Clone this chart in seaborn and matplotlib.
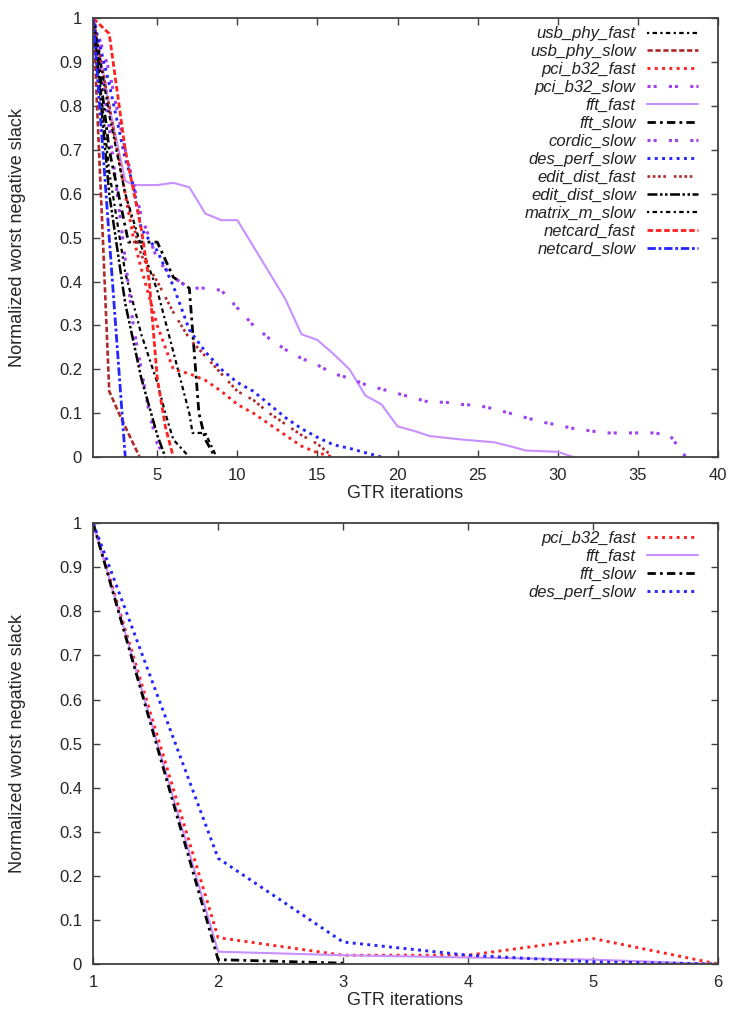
import matplotlib
matplotlib.use("Agg")
import matplotlib.pyplot as plt
import seaborn as sns
import pandas as pd

# ---- top panel: all designs ----
usb_phy_fast_x = [1, 2, 3, 4, 5, 5.5, 6, 7]
usb_phy_fast_y = [1, 0.65, 0.42, 0.28, 0.17, 0.1, 0.04, 0]
usb_phy_slow_x = [1, 1.6, 2, 2.6, 3.9]
usb_phy_slow_y = [1, 0.5, 0.15, 0.1, 0]
pci_b32_fast_x = [1, 2, 3, 3.5, 4, 5, 6, 7, 8, 9, 10, 11, 12, 13, 14, 15, 16]
pci_b32_fast_y = [1, 0.8, 0.6, 0.5, 0.43, 0.3, 0.2, 0.19, 0.175, 0.15, 0.12, 0.1, 0.075, 0.05, 0.025, 0.01, 0]
pci_b32_slow_x = [1, 2, 3, 3.5, 4, 4.5, 5, 5.5]
pci_b32_slow_y = [1, 0.75, 0.45, 0.3, 0.2, 0.1, 0.03, 0]
fft_fast_x = [1, 2, 3, 3.5, 5, 6, 7, 8, 9, 10, 11, 12, 13, 14, 15, 16, 17, 18, 19, 20, 21, 22, 24, 26, 27, 28, 30, 31]
fft_fast_y = [1, 0.8, 0.63, 0.62, 0.62, 0.625, 0.615, 0.555, 0.54, 0.54, 0.48, 0.42, 0.36, 0.28, 0.267, 0.235, 0.2,
              0.14, 0.12, 0.07, 0.06, 0.048, 0.04, 0.034, 0.025, 0.015, 0.012, 0]
fft_slow_x = [1, 2, 3.2, 5, 6, 7, 7.6, 8, 8.6]
fft_slow_y = [1, 0.7, 0.49, 0.49, 0.41, 0.385, 0.1, 0.04, 0]
cordic_slow_x = [1, 2, 3, 4, 5, 6, 7, 8, 9, 10, 11, 12, 13, 14, 15, 16, 17, 18, 19, 20, 21, 22, 23, 24, 25,
                 26, 27, 28, 29, 30, 31, 32, 33, 34, 35, 36, 37, 38]
cordic_slow_y = [1, 0.88, 0.7, 0.55, 0.45, 0.41, 0.385, 0.385, 0.38, 0.34, 0.3, 0.27, 0.245, 0.225, 0.21, 0.19,
                 0.18, 0.165, 0.155, 0.145, 0.135, 0.125, 0.125, 0.12, 0.118, 0.11, 0.1, 0.09, 0.08, 0.073, 0.065,
                 0.06, 0.055, 0.055, 0.055, 0.055, 0.05, 0]
des_perf_slow_x = [1, 2, 3, 3.5, 4, 5, 6, 7, 8, 9, 10, 11, 12, 13, 14, 15, 16, 17, 18, 19]
des_perf_slow_y = [1, 0.85, 0.68, 0.62, 0.52, 0.47, 0.39, 0.29, 0.24, 0.2, 0.17, 0.15, 0.12, 0.09, 0.065, 0.045,
                   0.028, 0.02, 0.01, 0]
edit_dist_fast_x = [1, 2, 3, 4, 5, 6, 7, 8, 9, 10, 11, 12, 13, 14, 15, 16]
edit_dist_fast_y = [1, 0.8, 0.6, 0.46, 0.4, 0.33, 0.27, 0.23, 0.19, 0.15, 0.13, 0.1, 0.075, 0.05, 0.03, 0]
edit_dist_slow_x = [1, 2, 3, 4, 5, 5.5]
edit_dist_slow_y = [1, 0.6, 0.35, 0.18, 0.05, 0]
matrix_m_slow_x = [1, 2, 3, 4, 5, 6, 7, 7.2, 8, 8.7]
matrix_m_slow_y = [1, 0.78, 0.6, 0.48, 0.38, 0.24, 0.1, 0.055, 0.055, 0]
netcard_fast_x = [1, 2, 3, 4, 4.5, 5, 5.5, 6]
netcard_fast_y = [1, 0.965, 0.7, 0.52, 0.4, 0.18, 0.07, 0]
netcard_slow_x = [1, 1.5, 2, 2.5, 2.8, 3]
netcard_slow_y = [1, 0.75, 0.5, 0.25, 0.1, 0]

# ---- bottom panel: selected designs ----
b_pci_b32_fast_x = [1, 2, 3, 4, 5, 6]
b_pci_b32_fast_y = [1, 0.06, 0.02, 0.02, 0.058, 0]
b_fft_fast_x = [1, 2, 3, 4, 5, 6]
b_fft_fast_y = [1, 0.028, 0.02, 0.015, 0.01, 0]
b_fft_slow_x = [1, 2, 3]
b_fft_slow_y = [1, 0.01, 0.002]
b_des_perf_slow_x = [1, 2, 3, 4, 5, 6]
b_des_perf_slow_y = [1, 0.24, 0.05, 0.02, 0.005, 0]

RED = "#ff2020"
DRED = "#b02828"
PURP = "#a040f0"
LVIO = "#c890ff"
BLUE = "#2424ff"
BLK = "#000000"

top_series = [
    ("usb_phy_fast", usb_phy_fast_x, usb_phy_fast_y, BLK, (0, (1, 1.5, 2, 1.5)), 1.6),
    ("usb_phy_slow", usb_phy_slow_x, usb_phy_slow_y, DRED, (0, (2, 1)), 1.9),
    ("pci_b32_fast", pci_b32_fast_x, pci_b32_fast_y, RED, (0, (1, 1.5)), 2.1),
    ("pci_b32_slow", pci_b32_slow_x, pci_b32_slow_y, PURP, (0, (1, 1, 1, 4)), 2.2),
    ("fft_fast", fft_fast_x, fft_fast_y, LVIO, "-", 1.5),
    ("fft_slow", fft_slow_x, fft_slow_y, BLK, (0, (3, 1.5, 1, 1.5)), 2.0),
    ("cordic_slow", cordic_slow_x, cordic_slow_y, PURP, (0, (1, 1, 1, 4)), 2.2),
    ("des_perf_slow", des_perf_slow_x, des_perf_slow_y, BLUE, (0, (1, 1.5)), 2.1),
    ("edit_dist_fast", edit_dist_fast_x, edit_dist_fast_y, DRED, (0, (1, 1, 1, 1, 1, 1, 1, 3)), 1.9),
    ("edit_dist_slow", edit_dist_slow_x, edit_dist_slow_y, BLK, (0, (4, 1, 1, 1, 1, 1)), 1.8),
    ("matrix_m_slow", matrix_m_slow_x, matrix_m_slow_y, BLK, (0, (1, 1.5, 2, 1.5)), 1.6),
    ("netcard_fast", netcard_fast_x, netcard_fast_y, RED, (0, (2, 1)), 2.0),
    ("netcard_slow", netcard_slow_x, netcard_slow_y, BLUE, (0, (3, 1, 1, 1)), 2.0),
]

bottom_series = [
    ("pci_b32_fast", b_pci_b32_fast_x, b_pci_b32_fast_y, RED, (0, (1, 1.5)), 2.1),
    ("fft_fast", b_fft_fast_x, b_fft_fast_y, LVIO, "-", 1.5),
    ("fft_slow", b_fft_slow_x, b_fft_slow_y, BLK, (0, (3, 1.5, 1, 1.5)), 2.0),
    ("des_perf_slow", b_des_perf_slow_x, b_des_perf_slow_y, BLUE, (0, (1, 1.5)), 2.1),
]

sns.set_style("ticks", {"xtick.direction": "in", "ytick.direction": "in",
                        "axes.edgecolor": "#404040"})
plt.rcParams["font.family"] = ["Liberation Sans", "DejaVu Sans"]


def draw_panel(ax, series, xlim, xticks):
    for name, xs, ys, color, ls, lw in series:
        df = pd.DataFrame({"x": xs, "y": ys})
        sns.lineplot(data=df, x="x", y="y", ax=ax, color=color, linestyle=ls,
                     linewidth=lw, label=name, errorbar=None, sort=False)
    ax.set_xlim(*xlim)
    ax.set_ylim(0, 1)
    ax.set_xticks(xticks)
    ax.set_yticks([i / 10 for i in range(11)])
    ax.set_yticklabels(["0"] + [f"{i / 10:.1f}" for i in range(1, 10)] + ["1"])
    ax.tick_params(top=True, right=True, labelsize=12, length=5, width=1, color="#404040", pad=8)
    for sp in ax.spines.values():
        sp.set_linewidth(1.3)
    ax.set_xlabel("GTR iterations", fontsize=13, labelpad=1)
    ax.set_ylabel("Normalized worst negative slack", fontsize=13, labelpad=24)
    leg = ax.legend(loc="upper right", bbox_to_anchor=(0.99, 1.012), frameon=False,
                    markerfirst=False, labelspacing=0.175, handlelength=3.1,
                    handletextpad=0.65, borderaxespad=0.4,
                    prop={"style": "italic", "size": 12})
    for t in leg.get_texts():
        t.set_color("#222222")


fig = plt.figure(figsize=(7.34, 10.18), dpi=100)
ax1 = fig.add_axes([0.127, 0.551, 0.851, 0.431])
ax2 = fig.add_axes([0.127, 0.053, 0.851, 0.433])

draw_panel(ax1, top_series, (1, 40), [5, 10, 15, 20, 25, 30, 35, 40])
draw_panel(ax2, bottom_series, (1, 6), [1, 2, 3, 4, 5, 6])

fig.savefig("out.png", dpi=100)
